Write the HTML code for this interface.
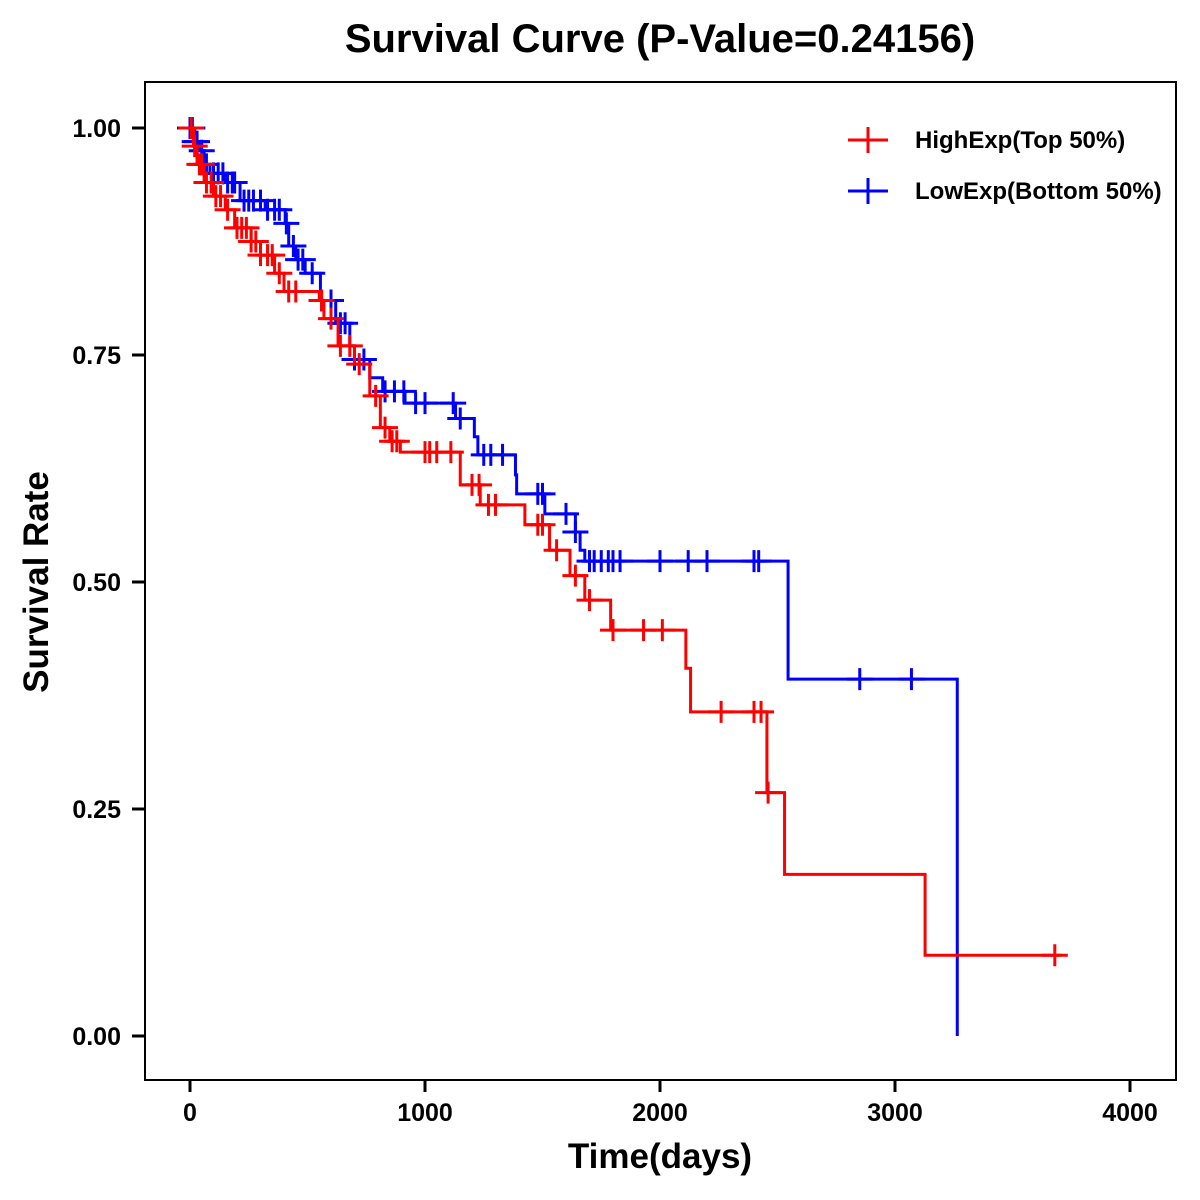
<!DOCTYPE html>
<html><head><meta charset="utf-8"><style>
html,body{margin:0;padding:0;background:#fff;width:1200px;height:1200px;overflow:hidden}
text{font-family:"Liberation Sans",Arial,sans-serif;font-weight:bold;fill:#000}
</style></head><body>
<svg id="chart" width="1200" height="1200">
<text x="660" y="52" font-size="40" text-anchor="middle">Survival Curve (P-Value=0.24156)</text>
<rect x="145" y="82" width="1031" height="998" fill="none" stroke="#000" stroke-width="2"/>
<g id="axes"></g>
<g id="series"></g>
<text x="660" y="1168" font-size="35" text-anchor="middle">Time(days)</text>
<text x="0" y="0" font-size="35" text-anchor="middle" transform="translate(48,582) rotate(-90)">Survival Rate</text>
<g>
<g>
<line x1="848" y1="140" x2="888" y2="140" stroke="#f00" stroke-width="3"/><line x1="868" y1="127" x2="868" y2="153" stroke="#f00" stroke-width="3"/>
<text x="915" y="148" font-size="24">HighExp(Top 50%)</text></g>
<g>
<line x1="848" y1="191" x2="888" y2="191" stroke="#00f" stroke-width="3"/><line x1="868" y1="178" x2="868" y2="204" stroke="#00f" stroke-width="3"/>
<text x="915" y="199" font-size="24">LowExp(Bottom 50%)</text></g>
</g>
</svg>
<script>
const xTicks=[0,1000,2000,3000,4000];
const yTicks=[0,0.25,0.5,0.75,1.0];
const yTickLabels=["0.00","0.25","0.50","0.75","1.00"];
const highTimes=[0,15,30,60,100,150,190,260,300,360,400,550,570,630,700,765,810,850,895,1150,1235,1425,1530,1617,1680,1790,2110,2130,2455,2530,3128];
const highSurv=[1.0,0.98,0.96,0.94,0.925,0.91,0.89,0.875,0.86,0.84,0.82,0.81,0.79,0.76,0.74,0.705,0.67,0.655,0.643,0.607,0.585,0.563,0.535,0.507,0.48,0.447,0.405,0.357,0.268,0.178,0.089];
const highEnd=3710;
const highCensor=[5,20,40,50,70,90,110,130,160,200,220,240,260,280,300,330,350,380,420,450,560,600,640,680,720,790,830,860,880,1000,1020,1050,1110,1200,1230,1270,1300,1480,1500,1560,1640,1700,1800,1930,2010,2260,2400,2430,2460,3680];
const lowTimes=[0,20,40,60,85,150,213,320,405,420,450,490,555,620,680,700,765,820,915,1130,1210,1225,1385,1390,1510,1640,1660,1680,2545,3265];
const lowSurv=[1.0,0.985,0.975,0.96,0.95,0.94,0.92,0.91,0.895,0.87,0.855,0.84,0.81,0.785,0.76,0.745,0.725,0.71,0.697,0.68,0.66,0.64,0.618,0.597,0.575,0.555,0.535,0.523,0.393,0.0];
const lowEnd=3265;
const lowCensor=[0,10,20,30,50,70,100,120,140,160,180,190,230,250,270,300,330,360,380,410,440,460,480,520,560,600,640,660,700,740,830,870,910,960,1000,1120,1150,1250,1280,1330,1480,1500,1600,1640,1700,1720,1750,1780,1800,1830,2000,2120,2200,2400,2420,2850,3070];
const X=t=>190+t*0.235;
const Y=s=>1036-s*908;
const NS="http://www.w3.org/2000/svg";
function mk(tag,attrs,parent){const e=document.createElementNS(NS,tag);for(const k in attrs)e.setAttribute(k,attrs[k]);parent.appendChild(e);return e;}
const axes=document.getElementById('axes');
xTicks.forEach(v=>{
 const l=mk('line',{x1:X(v),y1:1080,x2:X(v),y2:1092,stroke:'#000','stroke-width':3},axes);
 
 
 const t=mk('text',{x:X(v),y:1121,'font-size':25,'text-anchor':'middle'},axes);t.textContent=String(v);
 
 
});
yTicks.forEach((v,i)=>{
 const l=mk('line',{x1:132,y1:Y(v),x2:145,y2:Y(v),stroke:'#000','stroke-width':3},axes);
 
 
 const t=mk('text',{x:121,y:Y(v)+9,'font-size':25,'text-anchor':'end'},axes);t.textContent=yTickLabels[i];
 
 
});
const series=document.getElementById('series');
function survAt(times,surv,t){let s=surv[0];for(let i=0;i<times.length;i++){if(times[i]<=t)s=surv[i];}return s;}
function draw(times,surv,end,censor,color,name){
 const g=mk('g',{},series);
 
 
 let d='M'+X(times[0])+','+Y(surv[0]);
 for(let i=1;i<times.length;i++){d+=' H'+X(times[i])+' V'+Y(surv[i]);}
 d+=' H'+X(end);
 const p=mk('path',{d:d,fill:'none',stroke:color,'stroke-width':3},g);
 
 
 censor.forEach(c=>{
  const s=survAt(times,surv,c);const cx=X(c),cy=Y(s);
  const m=mk('path',{d:`M${cx-13},${cy} H${cx+13} M${cx},${cy-11} V${cy+11}`,stroke:color,'stroke-width':3,fill:'none'},g);
  
  
 });
}
draw(lowTimes,lowSurv,lowEnd,lowCensor,'#00f','low-exp-curve');
draw(highTimes,highSurv,highEnd,highCensor,'#f00','high-exp-curve');
</script>
</body></html>
